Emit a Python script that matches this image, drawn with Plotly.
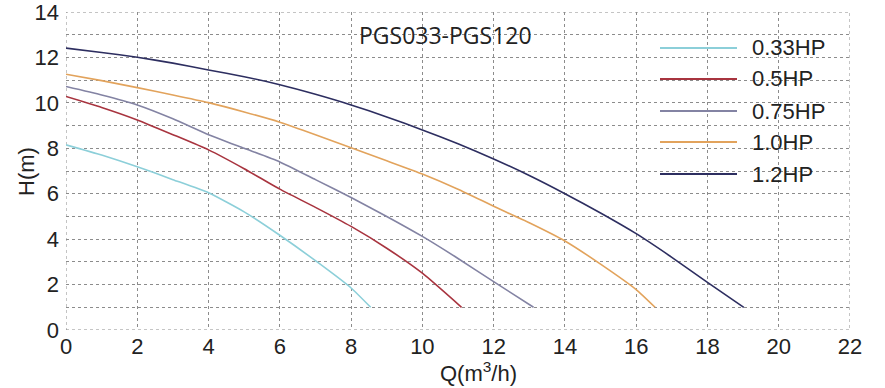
import plotly.graph_objects as go

# ---- data ----
series_names = ["0.33HP", "0.5HP", "0.75HP", "1.0HP", "1.2HP"]
series_colors = ["#8ccfd9", "#a8343f", "#8383a3", "#e2a35c", "#2d2e60"]

q_033 = [0, 1, 2, 3, 4, 5, 6, 7, 8, 8.55]
h_033 = [8.15, 7.7, 7.19, 6.62, 6.04, 5.2, 4.17, 3.05, 1.85, 1.0]

q_05 = [0, 1, 2, 3, 4, 5, 6, 7, 8, 9, 10, 11.1]
h_05 = [10.28, 9.8, 9.25, 8.6, 7.93, 7.1, 6.2, 5.4, 4.56, 3.6, 2.5, 1.0]

q_075 = [0, 1, 2, 3, 4, 5, 6, 7, 8, 9, 10, 11, 12, 13.12]
h_075 = [10.72, 10.35, 9.91, 9.3, 8.6, 8.0, 7.4, 6.62, 5.83, 5.0, 4.12, 3.15, 2.13, 1.0]

q_10 = [0, 1, 2, 3, 4, 5, 6, 7, 8, 9, 10, 11, 12, 13, 14, 15, 16, 16.53]
h_10 = [11.26, 10.98, 10.67, 10.35, 10.01, 9.6, 9.15, 8.6, 8.02, 7.45, 6.87, 6.2, 5.45,
        4.72, 3.92, 2.9, 1.78, 1.0]

q_12 = [0, 1, 2, 3, 4, 5, 6, 7, 8, 9, 10, 11, 12, 13, 14, 15, 16, 17, 18, 19.02]
h_12 = [12.41, 12.22, 12.01, 11.75, 11.45, 11.15, 10.8, 10.38, 9.91, 9.38, 8.81, 8.2,
        7.53, 6.8, 6.0, 5.15, 4.24, 3.2, 2.1, 1.0]

x_ticks = [0, 2, 4, 6, 8, 10, 12, 14, 16, 18, 20, 22]
y_ticks = [0, 2, 4, 6, 8, 10, 12, 14]

title_text = "PGS033-PGS120"
x_title = "Q(m<sup>3</sup>/h)"
y_title = "H(m)"

all_q = [q_033, q_05, q_075, q_10, q_12]
all_h = [h_033, h_05, h_075, h_10, h_12]

FONT = "Liberation Sans, Arial, sans-serif"
TXT = "#222222"
W, H = 885, 388
L, R, T, B = 66, 35, 12, 58
PW, PH = W - L - R, H - T - B


def px_x(p):
    return (p - L) / PW


def px_y(p):
    return (H - B - p) / PH


fig = go.Figure()
for name, color, q, h in zip(series_names, series_colors, all_q, all_h):
    fig.add_trace(go.Scatter(x=q, y=h, mode="lines", name=name,
                             line=dict(color=color, width=1.6, shape="spline", smoothing=0.5),
                             showlegend=False, hoverinfo="x+y+name"))

# manual legend (long sample lines as in the reference)
leg_py = [48, 79, 111, 142, 174]
for name, color, py in zip(series_names, series_colors, leg_py):
    fig.add_shape(type="line", xref="paper", yref="paper", x0=px_x(660), x1=px_x(737),
                  y0=px_y(py), y1=px_y(py), line=dict(color=color, width=2))
    fig.add_annotation(x=px_x(750), y=px_y(py), xref="paper", yref="paper", text=name,
                       showarrow=False, xanchor="left", yanchor="middle",
                       font=dict(family=FONT, size=22, color=TXT))

# dotted frame
fig.add_shape(type="rect", xref="x", yref="y", x0=0, x1=22, y0=0, y1=14,
              line=dict(color="#8a8a8a", width=1, dash="dot"), layer="below")

fig.add_annotation(x=px_x(445), y=px_y(35), xref="paper", yref="paper", text=title_text,
                   showarrow=False, xanchor="center", yanchor="middle",
                   font=dict(family="Open Sans, sans-serif", size=23, color=TXT))

fig.add_annotation(x=px_x(478), y=px_y(372), xref="paper", yref="paper",
                   text=x_title, showarrow=False, xanchor="center", yanchor="middle",
                   font=dict(family=FONT, size=22, color=TXT))
fig.add_annotation(x=px_x(26), y=px_y(172), xref="paper", yref="paper",
                   text=y_title, showarrow=False, textangle=-90, xanchor="center", yanchor="middle",
                   font=dict(family=FONT, size=22, color=TXT))

grid = dict(showgrid=True, gridcolor="#8c8c8c", gridwidth=1, griddash="dot",
            zeroline=False, showline=False, ticks="", automargin=False,
            ticklabeloverflow="allow",
            tickfont=dict(family=FONT, size=22, color=TXT))

fig.update_xaxes(range=[0, 22], tickvals=x_ticks, ticklabelstandoff=1, **grid)
fig.update_yaxes(range=[0, 14], tickvals=y_ticks, ticklabelstandoff=6,
                 minor=dict(dtick=1, showgrid=True, gridcolor="#8c8c8c", griddash="dot",
                            gridwidth=1), **grid)

fig.update_layout(width=W, height=H, margin=dict(l=L, r=R, t=T, b=B, autoexpand=False),
                  paper_bgcolor="white", plot_bgcolor="white", showlegend=False)

fig.write_html("out.html", config={"displayModeBar": False},
               post_script="document.body.style.margin='0';")
